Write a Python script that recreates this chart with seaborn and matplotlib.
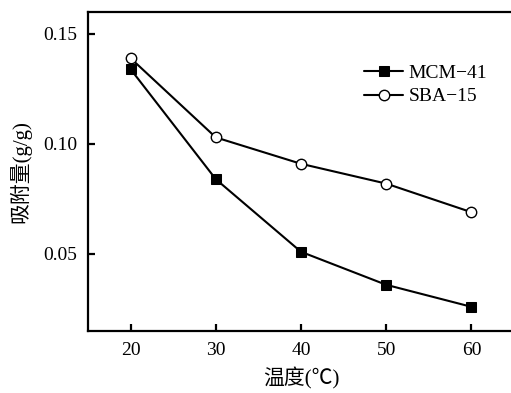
import pandas as pd
import numpy as np
import matplotlib
matplotlib.use('Agg')
import matplotlib.pyplot as plt
import seaborn as sns

# Data
temps = [20, 30, 40, 50, 60]
mcm41 = [0.134, 0.084, 0.051, 0.036, 0.026]
sba15 = [0.139, 0.103, 0.091, 0.082, 0.069]
series_names = ['MCM−41', 'SBA−15']

sns.set_style('ticks')
plt.rcParams['font.family'] = ['Liberation Serif', 'Noto Sans CJK SC', 'DejaVu Sans']
plt.rcParams['axes.unicode_minus'] = False
plt.rcParams['text.color'] = 'black'
plt.rcParams['axes.labelcolor'] = 'black'
plt.rcParams['xtick.color'] = 'black'
plt.rcParams['ytick.color'] = 'black'
plt.rcParams['axes.edgecolor'] = 'black'

df = pd.DataFrame({
    'temp': temps * 2,
    'value': mcm41 + sba15,
    'sample': [series_names[0]] * len(temps) + [series_names[1]] * len(temps),
})

fig = plt.figure(figsize=(5.11, 3.93), dpi=100)
ax = fig.add_axes([88 / 511, 62 / 393, 426 / 511, 319 / 393])

sns.lineplot(data=df[df['sample'] == series_names[0]], x='temp', y='value', ax=ax,
             color='black', linewidth=1.5, marker='s', markersize=6.5,
             markerfacecolor='black', markeredgecolor='black', label=series_names[0])
sns.lineplot(data=df[df['sample'] == series_names[1]], x='temp', y='value', ax=ax,
             color='black', linewidth=1.5, marker='o', markersize=7.5,
             markerfacecolor='white', markeredgecolor='black', markeredgewidth=1.0,
             label=series_names[1])

ax.set_xlim(15, 65)
ax.set_ylim(0.015, 0.16)
ax.set_xticks(temps)
ax.set_yticks([0.05, 0.10, 0.15])
ax.set_yticklabels(['0.05', '0.10', '0.15'])

for side in ['left', 'bottom', 'top', 'right']:
    ax.spines[side].set_linewidth(1.6)
ax.tick_params(direction='in', length=5, width=1.6, labelsize=14, pad=8,
               top=False, right=False)

ax.set_xlabel('温度(℃)', fontsize=15, labelpad=6)
ax.set_ylabel('吸附量(g/g)', fontsize=15, labelpad=8)

leg = ax.legend(loc='upper left', bbox_to_anchor=(0.63, 0.86), frameon=False,
                fontsize=14, handlelength=2.0, handletextpad=0.3, labelspacing=0.3,
                borderaxespad=0)

fig.savefig('out.png', dpi=100)
